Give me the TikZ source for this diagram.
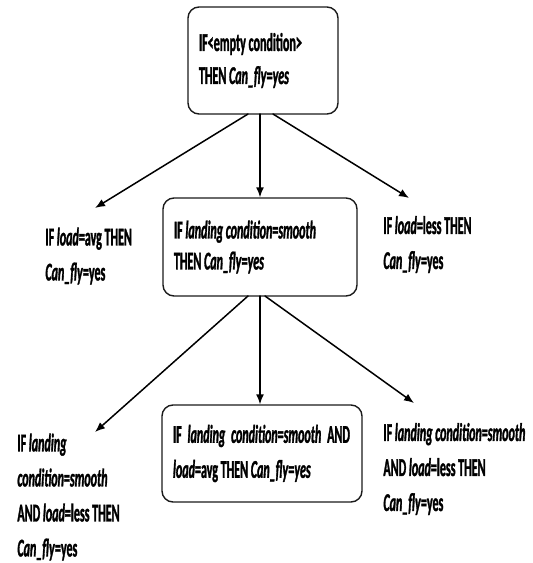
\documentclass[tikz,border=0pt]{standalone}
\usepackage{fontspec}
\setmainfont{Carlito}[FakeStretch=0.47, FakeBold=1.2]
\usepackage{tikz}
\usetikzlibrary{arrows.meta}
\usetikzlibrary{positioning}
\definecolor{rlink}{HTML}{000000}
\definecolor{rline}{HTML}{1A1A1A}
\tikzset{
  rlbox/.style={
    draw=rline, rounded corners=5.5pt, line width=0.7pt, align=flush left,
    inner xsep=5.5pt, inner ysep=0pt, font=\rlfont},
  rltext/.style={
    anchor=west, align=flush left, inner sep=0pt, font=\rlfont},
  rlarrow/.style={-{Latex[length=5pt, width=4pt]}, draw=rlink,
    line width=0.75pt},
  every picture/.style={line cap=round},
}
\newcommand{\rlfont}{\fontsize{12.8}{17.5}\selectfont\bfseries}

\begin{document}
\begin{tikzpicture}[x=0.5pt, y=-0.5pt,
  rlroot/.style={rlbox, minimum width=75pt, minimum height=53.5pt,
    text width=64pt},
  rlmid/.style={rlbox, minimum width=97pt, minimum height=49pt,
    text width=86pt},
  rlleaf/.style={rlbox, minimum width=100pt, minimum height=48.5pt,
    text width=89pt}]
\useasboundingbox (0, 0) rectangle (532, 563);

% Root rule.
\node[rlroot, font=\fontsize{12.8}{16.5}\selectfont\bfseries] (root)
  at (263, 60.5)
  {IF{<}empty condition{>}\\THEN \textit{Can\_fly}=\textit{yes}};

% ------------------------------------------------------------ level one
\node[rlmid, font=\fontsize{12.8}{15.5}\selectfont\bfseries] (landing)
  at (260, 247)
  {IF \textit{landing condition}=\textit{smooth}\\
   THEN \textit{Can\_fly}=\textit{yes}};
\node[rltext] (loadavg) at (45, 256)
  {IF \textit{load}=avg THEN\\\textit{Can\_fly}=yes};
\node[rltext] (loadless) at (383, 244.5)
  {IF \textit{load}=less THEN\\\textit{Can\_fly}=yes};

\coordinate (avgtip) at (95, 208);
\coordinate (lesstip) at (409, 198);
\draw[rlarrow] (248, 114) -- (avgtip);
\draw[rlarrow] (260, 114) -- (landing.north -| 260, 0);
\draw[rlarrow] (273, 114) -- (lesstip);

% ------------------------------------------------------------ level two
\node[rlleaf] (landavg) at (262, 453.5)
  {\makebox[88.5pt][s]{IF \textit{landing} \textit{condition}=\textit{smooth}
   AND}\\
   \textit{load}=avg THEN \textit{Can\_fly}=\textit{yes}};
\node[rltext] (landlessL) at (17, 497)
  {IF \textit{landing}\\\textit{condition}=\textit{smooth}\\
   AND \textit{load}=less THEN\\\textit{Can\_fly}=yes};
\node[rltext] (landlessR) at (383, 469)
  {IF \textit{landing condition}=\textit{smooth}\\
   AND \textit{load}=less THEN\\\textit{Can\_fly}=yes};

\coordinate (landlesstipL) at (95, 432);
\coordinate (landlesstipR) at (414, 403);
\draw[rlarrow] (248, 296) -- (landlesstipL);
\draw[rlarrow] (260, 296) -- (landavg.north -| 260, 0);
\draw[rlarrow] (265, 296) -- (landlesstipR);

\end{tikzpicture}
\end{document}
